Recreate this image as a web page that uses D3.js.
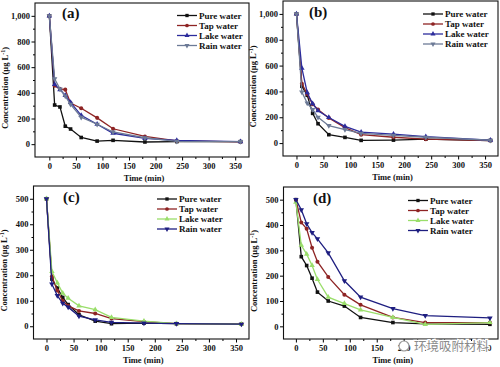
<!DOCTYPE html>
<html>
<head>
<meta charset="utf-8">
<script src="https://cdn.jsdelivr.net/npm/d3@7"></script>
<style>
  body { margin: 0; background: #fff; }
  svg { display: block; font-family: "Liberation Serif", "DejaVu Serif", serif; font-weight: bold; }
</style>
</head>
<body>
<div id="chart"></div>
<script>
const times = [0, 10, 20, 30, 40, 60, 90, 120, 180, 240, 360];
const seriesNames = ["Pure water", "Tap water", "Lake water", "Rain water"];

// panel (a)
const aPure = [1000, 305, 290, 140, 118, 52, 24, 30, 17, 20, 20];
const aTap = [1000, 455, 430, 425, 320, 280, 205, 120, 60, 25, 18];
const aLake = [1000, 465, 425, 380, 325, 225, 155, 85, 45, 30, 20];
const aRain = [1000, 510, 430, 375, 310, 210, 155, 95, 50, 22, 20];

// panel (b)
const bPure = [1000, 440, 370, 230, 150, 65, 44, 21, 23, 30, 20];
const bTap = [1000, 460, 380, 300, 260, 195, 120, 65, 45, 30, 20];
const bLake = [1000, 580, 390, 305, 250, 198, 130, 85, 70, 50, 22];
const bRain = [1000, 395, 310, 260, 200, 135, 105, 75, 60, 45, 22];

// panel (c)
const cPure = [500, 185, 150, 113, 85, 45, 20, 10, 12, 10, 8];
const cTap = [500, 195, 140, 100, 80, 60, 50, 30, 18, 10, 8];
const cLake = [500, 215, 170, 130, 110, 80, 65, 35, 20, 10, 8];
const cRain = [500, 165, 120, 90, 75, 40, 25, 15, 12, 10, 8];

// panel (d)
const dPure = [500, 275, 240, 190, 135, 100, 80, 35, 15, 10, 8];
const dTap = [500, 410, 385, 310, 255, 195, 125, 85, 35, 15, 15];
const dLake = [490, 320, 285, 240, 185, 115, 90, 65, 35, 8, 15];
const dRain = [500, 460, 405, 370, 345, 290, 180, 115, 70, 42, 33];

const xTicks = [0, 50, 100, 150, 200, 250, 300, 350];
const yTicksBig = [0, 200, 400, 600, 800, 1000];
const yTicksSmall = [0, 100, 200, 300, 400, 500];

const colorsAB = ["#111111", "#8e2424", "#2c2c9c", "#6c7a96"];
const colorsCD = ["#111111", "#8e2424", "#9ade6a", "#1e1e80"];
const markerTypes = [d3.symbolSquare, d3.symbolCircle, d3.symbolTriangle, "down"];

const width = 500;
const height = 367;

const svg = d3
  .select("#chart")
  .append("svg")
  .attr("width", width)
  .attr("height", height)
  .attr("viewBox", [0, 0, width, height]);

function marker(g, type, color, size) {
  if (type === "down") {
    g.append("path")
      .attr("d", d3.symbol(d3.symbolTriangle, size)())
      .attr("transform", "rotate(180)")
      .attr("fill", color);
  } else {
    g.append("path")
      .attr("d", d3.symbol(type, size)())
      .attr("fill", color);
  }
}

function styleTicks(s) {
  s.select(".domain").remove();
  s.selectAll("text")
    .attr("font-size", 8.5)
    .attr("font-family", "Liberation Serif")
    .attr("font-weight", "bold")
    .attr("fill", "#111");
}

function drawPanel(p) {
  const x = d3.scaleLinear().domain(p.xDomain).range([p.left, p.right]);
  const y = d3.scaleLinear().domain(p.yDomain).range([p.bottom, p.top]);
  const g = svg.append("g");

  // minor ticks
  const xMinor = d3.range(25, 375, 50);
  const yStep = p.yTicks[1] - p.yTicks[0];
  const yMinor = d3.range(yStep / 2, p.yTicks[p.yTicks.length - 1], yStep);

  g.append("g")
    .attr("transform", `translate(0,${p.bottom})`)
    .call(d3.axisBottom(x).tickValues(xMinor).tickSize(2).tickFormat(""))
    .call((s) => s.select(".domain").remove());
  g.append("g")
    .attr("transform", `translate(${p.left},0)`)
    .call(d3.axisLeft(y).tickValues(yMinor).tickSize(2).tickFormat(""))
    .call((s) => s.select(".domain").remove());

  // major ticks
  g.append("g")
    .attr("transform", `translate(0,${p.bottom})`)
    .call(d3.axisBottom(x).tickValues(xTicks).tickSize(3.5).tickPadding(2))
    .call(styleTicks);
  g.append("g")
    .attr("transform", `translate(${p.left},0)`)
    .call(d3.axisLeft(y).tickValues(p.yTicks).tickSize(3.5).tickPadding(1.5))
    .call(styleTicks);

  // frame
  g.append("rect")
    .attr("x", p.left)
    .attr("y", p.top)
    .attr("width", p.right - p.left)
    .attr("height", p.bottom - p.top)
    .attr("fill", "none")
    .attr("stroke", "#111")
    .attr("stroke-width", 1.1);

  const line = d3
    .line()
    .x((d) => x(d[0]))
    .y((d) => y(d[1]));

  p.series.forEach((vals, i) => {
    const pts = times.map((t, j) => [t, vals[j]]);
    g.append("path")
      .attr("fill", "none")
      .attr("stroke", p.colors[i])
      .attr("stroke-width", 1.3)
      .attr("d", line(pts));
    pts.forEach((d) => {
      const m = g.append("g").attr("transform", `translate(${x(d[0])},${y(d[1])})`);
      marker(m, markerTypes[i], p.colors[i], 13);
    });
  });

  // legend
  seriesNames.forEach((name, i) => {
    const ly = p.legend[1] + i * 10;
    g.append("line")
      .attr("x1", p.legend[0])
      .attr("x2", p.legend[0] + 20)
      .attr("y1", ly)
      .attr("y2", ly)
      .attr("stroke", p.colors[i])
      .attr("stroke-width", 1.3);
    const m = g.append("g").attr("transform", `translate(${p.legend[0] + 10},${ly})`);
    marker(m, markerTypes[i], p.colors[i], 11);
    g.append("text")
      .attr("x", p.legend[0] + 22)
      .attr("y", ly + 3)
      .attr("font-size", 9)
      .attr("fill", "#111")
      .text(name);
  });

  // panel label
  g.append("text")
    .attr("x", p.label[0])
    .attr("y", p.label[1])
    .attr("font-size", 15)
    .attr("fill", "#111")
    .text(p.name);

  // axis titles
  g.append("text")
    .attr("x", (p.left + p.right) / 2 + 2)
    .attr("y", p.bottom + 24)
    .attr("text-anchor", "middle")
    .attr("font-size", 8.5)
    .attr("fill", "#111")
    .text("Time (min)");
  const yt = g.append("text")
    .attr("transform", `translate(${p.left - 27},${(p.top + p.bottom) / 2 + 8}) rotate(-90)`)
    .attr("text-anchor", "middle")
    .attr("font-size", 8.5)
    .attr("fill", "#111");
  yt.append("tspan").text("Concentration (μg L");
  yt.append("tspan").attr("dy", -3).attr("font-size", 6).text("-1");
  yt.append("tspan").attr("dy", 3).text(")");
}

drawPanel({
  name: "(a)",
  left: 35, right: 249, top: 3, bottom: 157,
  xDomain: [-27, 376], yDomain: [-100, 1100], yTicks: yTicksBig,
  series: [aPure, aTap, aLake, aRain], colors: colorsAB,
  legend: [177, 15.5], label: [62, 18],
});
drawPanel({
  name: "(b)",
  left: 283, right: 498, top: 1, bottom: 156,
  xDomain: [-25, 374], yDomain: [-100, 1100], yTicks: yTicksBig,
  series: [bPure, bTap, bLake, bRain], colors: colorsAB,
  legend: [423, 14], label: [309, 17],
});
drawPanel({
  name: "(c)",
  left: 33.5, right: 249, top: 186, bottom: 339,
  xDomain: [-24, 374], yDomain: [-50, 550], yTicks: yTicksSmall,
  series: [cPure, cTap, cLake, cRain], colors: colorsCD,
  legend: [157, 199], label: [63, 202],
});
drawPanel({
  name: "(d)",
  left: 283.5, right: 498, top: 187, bottom: 339,
  xDomain: [-23, 375], yDomain: [-50, 550], yTicks: yTicksSmall,
  series: [dPure, dTap, dLake, dRain], colors: colorsCD,
  legend: [408, 200.5], label: [313, 203],
});

// watermark
const wm = svg.append("g").attr("transform", "translate(404,346)");
wm.append("circle").attr("r", 5).attr("fill", "#fff").attr("stroke", "#999").attr("stroke-width", 1.2);
wm.append("text")
  .attr("x", 10)
  .attr("y", 5)
  .attr("font-family", "Noto Sans CJK SC")
  .attr("font-weight", "normal")
  .attr("font-size", 12.5)
  .attr("fill", "#8a8a8a")
  .attr("stroke", "#fff")
  .attr("stroke-width", 2.5)
  .attr("paint-order", "stroke")
  .text("环境吸附材料");
</script>
</body>
</html>
